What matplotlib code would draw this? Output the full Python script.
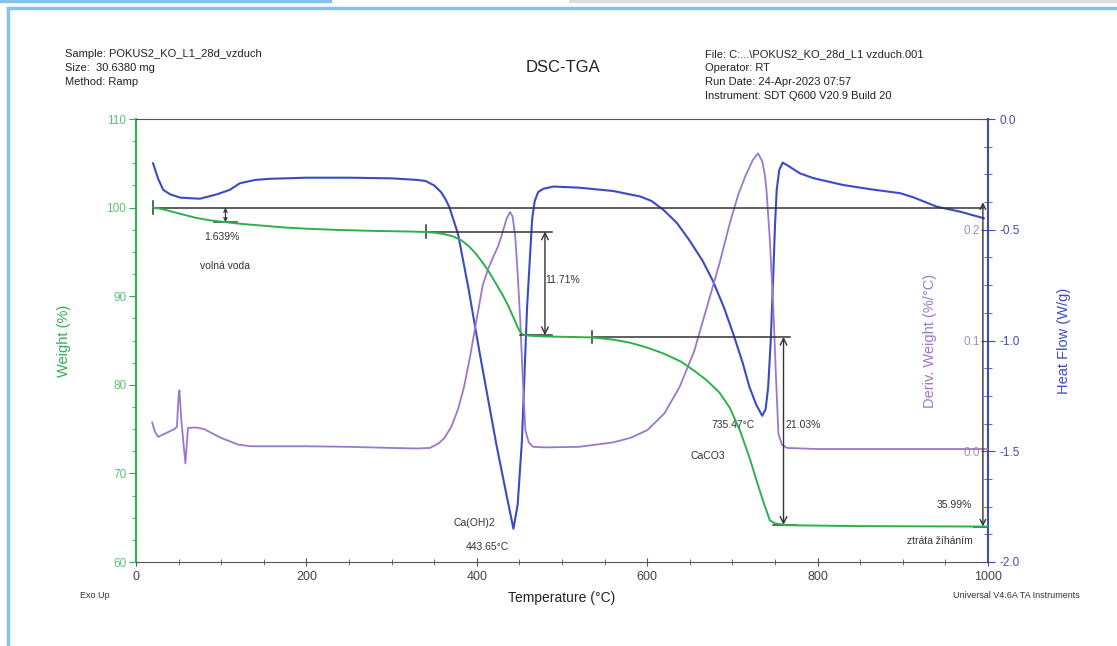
import numpy as np
import matplotlib
matplotlib.use('Agg')
import matplotlib.pyplot as plt
from matplotlib.ticker import MultipleLocator
from matplotlib.lines import Line2D

plt.rcParams['font.family'] = ['Liberation Sans', 'DejaVu Sans']

# Weight (%) vs temperature
temp_w = [20, 30, 40, 50, 60, 70, 80, 90, 100, 110, 125, 150, 175, 200, 240, 280,
          320, 340, 352, 362, 372, 382, 390, 398, 406, 414, 422, 430, 437, 443,
          448, 452, 456, 465, 482, 510, 535, 560, 580, 600, 620, 640, 655, 670,
          685, 697, 709, 720, 729, 737, 744, 750, 764, 850, 1000]
weight = [100.0, 99.85, 99.6, 99.35, 99.1, 98.85, 98.68, 98.52, 98.42, 98.3, 98.15,
          97.95, 97.75, 97.62, 97.47, 97.37, 97.3, 97.25, 97.15, 97.0, 96.75, 96.3,
          95.7, 94.9, 93.9, 92.8, 91.5, 90.2, 88.9, 87.6, 86.5, 85.8, 85.6, 85.52,
          85.45, 85.4, 85.35, 85.1, 84.75, 84.2, 83.5, 82.6, 81.6, 80.5, 79.1, 77.4,
          74.8, 71.8, 69.0, 66.6, 64.7, 64.35, 64.15, 64.05, 64.0]

# Heat flow (W/g)
temp_hf = [20, 26, 32, 40, 52, 75, 95, 110, 122, 140, 157, 200, 250, 300, 330, 340,
           350, 358, 363, 368, 378, 390, 404, 423, 435, 443, 448, 453, 459, 465,
           468, 472, 478, 490, 520, 560, 592, 605, 619, 635, 650, 665, 677, 690,
           701, 712, 720, 728, 735, 739, 742, 745, 748, 750, 752, 755, 759, 765,
           779, 795, 830, 862, 897, 912, 940, 967, 995]
heat_flow = [-0.20, -0.27, -0.32, -0.34, -0.355, -0.36, -0.34, -0.32, -0.29, -0.275,
             -0.27, -0.265, -0.265, -0.268, -0.275, -0.28, -0.30, -0.33, -0.36, -0.40,
             -0.52, -0.76, -1.07, -1.47, -1.70, -1.85, -1.74, -1.45, -0.85, -0.45,
             -0.37, -0.33, -0.315, -0.305, -0.31, -0.325, -0.35, -0.37, -0.41, -0.47,
             -0.55, -0.64, -0.73, -0.85, -0.97, -1.10, -1.21, -1.29, -1.34, -1.31,
             -1.21, -1.00, -0.70, -0.48, -0.32, -0.23, -0.197, -0.21, -0.245, -0.267,
             -0.298, -0.317, -0.335, -0.353, -0.396, -0.418, -0.448]

# Derivative weight (%/°C)
temp_d = [19, 22, 26, 45, 48, 50, 51, 53, 56, 58, 61, 70, 80, 90, 100, 110, 120,
          135, 200, 250, 300, 330, 345, 355, 362, 370, 378, 385, 392, 400, 407,
          413, 419, 425, 430, 435, 439, 442, 445, 448, 451, 454, 457, 461, 466,
          480, 520, 560, 580, 600, 620, 638, 655, 670, 685, 697, 707, 715, 724, 730,
          735, 738, 740, 744, 748, 751, 754, 758, 764, 800, 900, 1000]
deriv = [0.026, 0.018, 0.013, 0.020, 0.022, 0.050, 0.055, 0.030, 0.005, -0.011,
         0.021, 0.0215, 0.020, 0.016, 0.012, 0.009, 0.006, 0.0045, 0.0045, 0.004,
         0.003, 0.0025, 0.003, 0.007, 0.012, 0.022, 0.038, 0.058, 0.085, 0.120,
         0.150, 0.164, 0.175, 0.185, 0.197, 0.210, 0.216, 0.212, 0.195, 0.160,
         0.118, 0.065, 0.019, 0.008, 0.004, 0.0035, 0.004, 0.008, 0.012, 0.019,
         0.034, 0.058, 0.090, 0.130, 0.170, 0.206, 0.232, 0.248, 0.263, 0.269,
         0.262, 0.250, 0.236, 0.190, 0.130, 0.070, 0.016, 0.006, 0.003, 0.002,
         0.002, 0.002]

green = '#2eb04e'
green_lbl = '#5cc272'
blue = '#3b4cc0'
purple = '#9a78cc'
ink = '#333333'

fig = plt.figure(figsize=(11.17, 6.46), dpi=100)
ax = fig.add_axes([136 / 1117, 1 - 562 / 646, 852 / 1117, 443 / 646])
ax_hf = ax.twinx()
ax_d = ax.twinx()

ax.set_xlim(0, 1000)
ax.set_ylim(60, 110)
ax_hf.set_ylim(-2.0, 0.0)
ax_d.set_ylim(-0.1, 0.3)

ax_d.plot(temp_d, deriv, color=purple, lw=1.3)
ax_hf.plot(temp_hf, heat_flow, color=blue, lw=1.5)
ax.plot(temp_w, weight, color=green, lw=1.4, zorder=5)
ax.set_zorder(3)
ax.patch.set_visible(False)

# step annotations on the weight curve
ann = dict(color=ink, lw=1.1)
ax.plot([20, 994], [100, 100], **ann)
ax.plot([20, 20], [99.3, 100.7], **ann)
ax.plot([92, 118], [98.36, 98.36], **ann)
ax.annotate('', xy=(105, 98.36), xytext=(105, 100.0),
            arrowprops=dict(arrowstyle='<->', color=ink, lw=0.9, shrinkA=0, shrinkB=0,
                            mutation_scale=6))
ax.plot([340, 488], [97.3, 97.3], **ann)
ax.plot([340, 340], [96.6, 98.0], **ann)
ax.plot([451, 488], [85.6, 85.6], **ann)
ax.annotate('', xy=(480, 85.6), xytext=(480, 97.3),
            arrowprops=dict(arrowstyle='<->', color=ink, lw=1.0, shrinkA=0, shrinkB=0,
                            mutation_scale=12))
ax.plot([535, 768], [85.4, 85.4], **ann)
ax.plot([535, 535], [84.7, 86.1], **ann)
ax.plot([748, 775], [64.2, 64.2], **ann)
ax.annotate('', xy=(760, 64.2), xytext=(760, 85.4),
            arrowprops=dict(arrowstyle='<->', color=ink, lw=1.0, shrinkA=0, shrinkB=0,
                            mutation_scale=12))
ax.plot([984, 1000], [64.0, 64.0], **ann)
ax.annotate('', xy=(994, 64.0), xytext=(994, 100.6),
            arrowprops=dict(arrowstyle='<->', color=ink, lw=1.0, shrinkA=0, shrinkB=0,
                            mutation_scale=10))

fs = 7.5
ax.text(101, 96.7, '1.639%', fontsize=fs, color=ink, ha='center', va='center')
ax.text(104, 93.4, 'volná voda', fontsize=fs, color=ink, ha='center', va='center')
ax.text(501, 91.8, '11.71%', fontsize=fs, color=ink, ha='center', va='center')
ax.text(397, 64.4, 'Ca(OH)2', fontsize=fs, color=ink, ha='center', va='center')
ax.text(412, 61.7, '443.65°C', fontsize=fs, color=ink, ha='center', va='center')
ax.text(701, 75.5, '735.47°C', fontsize=fs, color=ink, ha='center', va='center')
ax.text(783, 75.5, '21.03%', fontsize=fs, color=ink, ha='center', va='center')
ax.text(671, 72.0, 'CaCO3', fontsize=fs, color=ink, ha='center', va='center')
ax.text(961, 66.4, '35.99%', fontsize=fs, color=ink, ha='center', va='center')
ax.text(944, 62.4, 'ztráta žíháním', fontsize=fs, color=ink, ha='center', va='center')

# axes styling
for a in (ax, ax_hf, ax_d):
    for s in a.spines.values():
        s.set_visible(False)
ax.spines['left'].set_visible(True)
ax.spines['left'].set_color(green)
ax.spines['left'].set_linewidth(1.5)
ax.spines['bottom'].set_visible(True)
ax.spines['bottom'].set_color('#555555')
ax.spines['top'].set_visible(True)
ax.spines['top'].set_color('#555555')
ax_hf.spines['right'].set_visible(True)
ax_hf.spines['right'].set_color(blue)
ax_hf.spines['right'].set_linewidth(1.5)

ax.xaxis.set_major_locator(MultipleLocator(200))
ax.xaxis.set_minor_locator(MultipleLocator(50))
ax.tick_params(axis='x', which='both', direction='inout', colors='#555555',
               labelcolor='#444444', labelsize=9, length=6, top=False)
ax.tick_params(axis='x', which='minor', length=4)
ax.yaxis.set_major_locator(MultipleLocator(10))
ax.yaxis.set_minor_locator(MultipleLocator(2.5))
ax.tick_params(axis='y', which='both', colors=green, labelcolor=green_lbl,
               labelsize=8.5, length=5, pad=2)
ax.tick_params(axis='y', which='minor', length=3)

ax_hf.yaxis.set_major_locator(MultipleLocator(0.5))
ax_hf.yaxis.set_minor_locator(MultipleLocator(0.125))
ax_hf.yaxis.set_major_formatter(plt.FormatStrFormatter('%.1f'))
ax_hf.tick_params(axis='y', which='both', direction='inout', colors=blue,
                  labelcolor=blue, labelsize=8.5, length=10)
ax_hf.tick_params(axis='y', which='minor', length=6)

ax_d.set_yticks([0.0, 0.1, 0.2])
ax_d.yaxis.set_major_formatter(plt.FormatStrFormatter('%.1f'))
ax_d.tick_params(axis='y', length=0, pad=-6, labelcolor='#9d92c4', labelsize=8.5)
for lbl in ax_d.get_yticklabels():
    lbl.set_horizontalalignment('right')

ax.set_xlabel('Temperature (°C)', fontsize=10, color='#222222', labelpad=6)
ax.set_ylabel('Weight (%)', fontsize=10.5, color=green)
ax.yaxis.set_label_coords(-0.076, 0.5)
ax_d.set_ylabel('Deriv. Weight (%/°C)', fontsize=10.5, color=purple)
ax_d.yaxis.set_label_coords(0.924, 0.5)
ax_hf.set_ylabel('Heat Flow (W/g)', fontsize=10.5, color=blue)
ax_hf.yaxis.set_label_coords(1.081, 0.5)

# header and footer text
hdr = dict(fontsize=8, color='#222222', va='center', ha='left')
fig.text(65 / 1117, 1 - 54 / 646, 'Sample: POKUS2_KO_L1_28d_vzduch', **hdr)
fig.text(65 / 1117, 1 - 68 / 646, 'Size:  30.6380 mg', **hdr)
fig.text(65 / 1117, 1 - 82 / 646, 'Method: Ramp', **hdr)
fig.text(563 / 1117, 1 - 68 / 646, 'DSC-TGA', fontsize=12, color='#222222',
         ha='center', va='center')
fig.text(705 / 1117, 1 - 54 / 646, 'File: C:...\\POKUS2_KO_28d_L1 vzduch.001', **hdr)
fig.text(705 / 1117, 1 - 68 / 646, 'Operator: RT', **hdr)
fig.text(705 / 1117, 1 - 82 / 646, 'Run Date: 24-Apr-2023 07:57', **hdr)
fig.text(705 / 1117, 1 - 96 / 646, 'Instrument: SDT Q600 V20.9 Build 20', **hdr)
fig.text(80 / 1117, 1 - 596 / 646, 'Exo Up', fontsize=6.5, color='#333333',
         ha='left', va='center')
fig.text(1080 / 1117, 1 - 596 / 646, 'Universal V4.6A TA Instruments', fontsize=6.5,
         color='#333333', ha='right', va='center')

# screenshot frame
frame = '#84c4ea'
fig.add_artist(Line2D([0, 330 / 1117], [1 - 1 / 646, 1 - 1 / 646], color=frame, lw=2.5))
fig.add_artist(Line2D([570 / 1117, 1], [1 - 1 / 646, 1 - 1 / 646], color='#dddddd', lw=2.5))
fig.add_artist(Line2D([8 / 1117, 1], [1 - 8 / 646, 1 - 8 / 646], color=frame, lw=2.5))
fig.add_artist(Line2D([8 / 1117, 8 / 1117], [0, 1 - 8 / 646], color=frame, lw=2.5))

fig.savefig('out.png', dpi=100)
